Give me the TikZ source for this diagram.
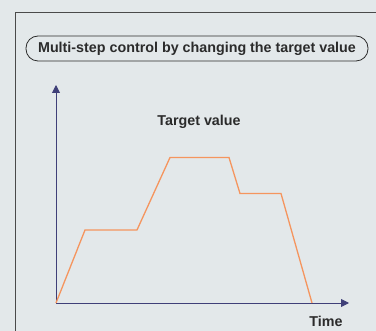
\documentclass[tikz,border=0pt]{standalone}
\usepackage{fontspec}
\setmainfont{Liberation Sans}
\usetikzlibrary{arrows.meta}
\definecolor{bgcol}{HTML}{E3E8EA}
\definecolor{axiscol}{HTML}{3F3F78}
\definecolor{curvecol}{HTML}{F5955E}
\definecolor{textcol}{HTML}{2B2B2B}
\definecolor{framecol}{HTML}{4A4A4A}
\begin{document}
\begin{tikzpicture}[x=1pt,y=-1pt,
	axis/.style={axiscol,line width=0.9pt,-{Triangle[length=8pt,width=8pt]}},
	label/.style={font=\bfseries\fontsize{14.3}{16}\selectfont,text=textcol,inner sep=0pt}]
				\fill [bgcol] (0,0) rectangle (376,331);
				\useasboundingbox (0,0) rectangle (376,331);
				\draw [framecol,line width=0.8pt] (15,340) -- (15,12) -- (380,12);
				
				\node (Title) [label,draw=textcol,line width=0.8pt,rounded corners=12pt,minimum width=342pt,minimum height=25pt] at (197,48.5) {Multi-step control by changing the target value};
				\node (Target) [label] at (199,122) {Target value};
				\node (Time) [label] at (326,321) {Time};
				
				\coordinate (O) at (56,303);
				\coordinate (ytip) at (56,85);
				\coordinate (xtip) at (349,303);
				\path [axis] (O) edge (ytip);
				\path [axis] (O) edge (xtip);
				
				\coordinate (p1) at (85,230);
				\coordinate (p2) at (137,230);
				\coordinate (p3) at (170,157.5);
				\coordinate (p4) at (229,157.5);
				\coordinate (p5) at (240,193.5);
				\coordinate (p6) at (281,193.5);
				\coordinate (p7) at (312,303);
				\draw [curvecol,line width=1.3pt] (O) -- (p1) -- (p2) -- (p3) -- (p4) -- (p5) -- (p6) -- (p7);
			\end{tikzpicture}
\end{document}
